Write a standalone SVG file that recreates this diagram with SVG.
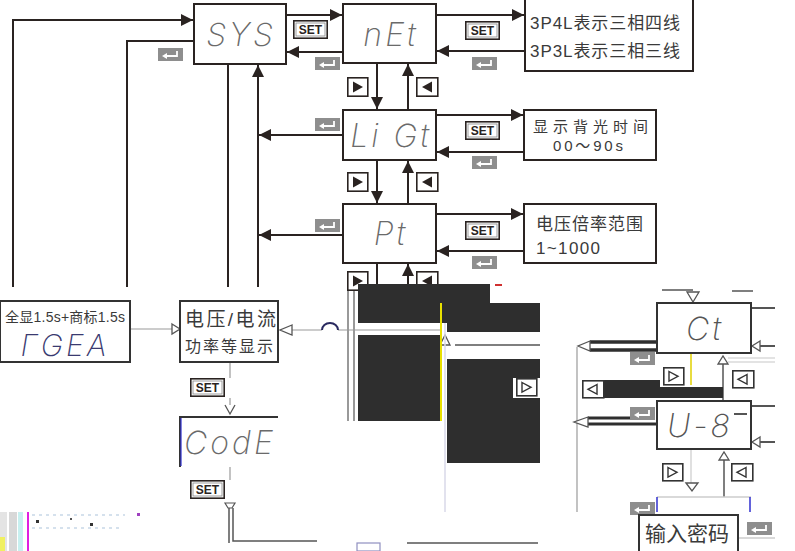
<svg xmlns="http://www.w3.org/2000/svg" width="795" height="551" viewBox="0 0 795 551">
<style>
.ln{fill:none;stroke:#2a2321;stroke-width:2}
.lt{fill:none;stroke:#9a9a9a;stroke-width:1.2}
.bx{fill:#fff;stroke:#2a2321;stroke-width:2}
.seg{font-family:Inter,"DejaVu Sans",sans-serif;font-style:italic;font-weight:200;font-size:32px;fill:#6a6a6a;text-anchor:middle;letter-spacing:3px}
.cn{font-family:"Liberation Sans","Noto Sans CJK SC",sans-serif;fill:#3a3a3a}
.dk{fill:#2e2e2e}
</style>
<defs>
<marker id="ah" markerUnits="userSpaceOnUse" markerWidth="13" markerHeight="12" refX="12" refY="6" orient="auto"><path d="M0,0 L12,6 L0,12 z" fill="#2a2321"/></marker>
<g id="set"><rect x="0.8" y="0.8" width="33.4" height="17.4" fill="#fff" stroke="#2a2321" stroke-width="1.6"/><rect x="3" y="3" width="29" height="13" fill="#fff" stroke="#888" stroke-width="0.8"/><text x="17.5" y="14" text-anchor="middle" font-family="Liberation Sans,sans-serif" font-weight="bold" font-size="12" fill="#2a2321">SET</text></g>
<g id="ret"><rect x="0" y="0" width="25" height="13" fill="#8e8e8e"/><path d="M19,3 V8 H8" fill="none" stroke="#fff" stroke-width="1.8"/><path d="M4,8 L9,5 L9,11 z" fill="#fff"/></g>
<g id="rt"><rect x="0.8" y="0.8" width="20" height="18.4" fill="#fff" stroke="#2a2321" stroke-width="1.6"/><path d="M6,4.5 L16,10 L6,15.5 z" fill="#2a2321"/></g>
<g id="lt"><rect x="0.8" y="0.8" width="21" height="18.4" fill="#fff" stroke="#2a2321" stroke-width="1.6"/><path d="M16,4.5 L6,10 L16,15.5 z" fill="#2a2321"/></g>
<g id="hrt"><rect x="0.8" y="0.8" width="20" height="17" fill="#fff" stroke="#333" stroke-width="1.6"/><path d="M6,4.5 L15,9.3 L6,14 z" fill="#fff" stroke="#333" stroke-width="1.4"/></g>
<g id="hlt"><rect x="0.8" y="0.8" width="21" height="17" fill="#fff" stroke="#333" stroke-width="1.6"/><path d="M15,4.5 L6,9.3 L15,14 z" fill="#fff" stroke="#333" stroke-width="1.4"/></g>
</defs>

<g id="connectors">
<path class="ln" d="M13,287 V20 H193" marker-end="url(#ah)"/>
<path class="ln" d="M127,287 V41 H194"/>
<path class="ln" d="M228,64 V287"/>
<path class="ln" d="M258,287 V65" marker-end="url(#ah)"/>
<path class="ln" d="M343,135 H259" marker-end="url(#ah)"/>
<path class="ln" d="M343,235 H259" marker-end="url(#ah)"/>
<path class="ln" d="M286,15 H342" marker-end="url(#ah)"/>
<path class="ln" d="M343,52 H287" marker-end="url(#ah)"/>
<path class="ln" d="M436,15 H524" marker-end="url(#ah)"/>
<path class="ln" d="M525,51 H437" marker-end="url(#ah)"/>
<path class="ln" d="M377,63 V109" marker-end="url(#ah)"/>
<path class="ln" d="M408,110 V64" marker-end="url(#ah)"/>
<path class="ln" d="M436,115 H523" marker-end="url(#ah)"/>
<path class="ln" d="M524,152 H437" marker-end="url(#ah)"/>
<path class="ln" d="M377,160 V203" marker-end="url(#ah)"/>
<path class="ln" d="M408,204 V161" marker-end="url(#ah)"/>
<path class="ln" d="M436,214 H523" marker-end="url(#ah)"/>
<path class="ln" d="M524,251 H437" marker-end="url(#ah)"/>
<path class="ln" d="M377,263 V285"/>
<path class="ln" d="M408,285 V264" marker-end="url(#ah)"/>
<path class="lt" d="M130,329 H172"/>
<path d="M172,324 L180,329 L172,334 z" fill="#fff" stroke="#555" stroke-width="1.3"/>
<path class="lt" d="M292,330 H322 M338,330 H442"/>
<path d="M322,330 A8,7 0 0 1 338,330" fill="none" stroke="#2a2a60" stroke-width="2"/>
<path d="M292,325 L280,330 L292,335 z" fill="#fff" stroke="#555" stroke-width="1.3"/>
<path d="M445,335 L440,345 L450,345 z" fill="#fff" stroke="#555" stroke-width="1.3"/>
<path d="M455,345 H540" stroke="#555" stroke-width="1.5"/>
<path d="M348,271 V421 M354,271 V421" stroke="#999" stroke-width="2" fill="none"/>
<path d="M445,303 V512" stroke="#d8d8e8" stroke-width="1.5"/>
<path d="M446,303 V322" stroke="#3030d0" stroke-width="1.5"/>
<path class="lt" d="M230,362 V378 M230,398 V405"/>
<path d="M225,405 L230,414 L235,405" fill="none" stroke="#555" stroke-width="1.3"/>
<path class="lt" d="M230,467 V480"/>
<path d="M225,503 H235 L232,508 H228 z" fill="#fff" stroke="#555" stroke-width="1.2"/>
<path d="M229,508 V543 M233,508 V541 H317" fill="none" stroke="#555" stroke-width="1.5"/>
<path d="M407,543 H538" stroke="#555" stroke-width="1.5"/>
<path class="lt" d="M577,347 V512"/>
<path d="M662,290 H693 M732,291 H753" stroke="#555" stroke-width="1.5"/>
<path d="M687,292 L693,302 L699,292 z" fill="#fff" stroke="#555" stroke-width="1.3"/>
<path d="M590,342 H657 M590,350 H657" stroke="#2e2e2e" stroke-width="3.5"/>
<path d="M590,341 L578,346 L590,351 z" fill="#fff" stroke="#555" stroke-width="1.3"/>
<path d="M751,308 H775 M760,346 H775" stroke="#555" stroke-width="2"/>
<path d="M760,341 L752,346 L760,351 z" fill="#fff" stroke="#555" stroke-width="1.3"/>
<path d="M691,353 V385" stroke="#e0d000" stroke-width="1.5"/>
<path d="M723,364 V400" stroke="#555" stroke-width="1.5"/>
<path d="M718,364 L723,356 L728,364 z" fill="#fff" stroke="#555" stroke-width="1.3"/>
<path d="M728,358 H775 M728,362 H775" stroke="#c8c8c8" stroke-width="1.2"/>
<path d="M588,418 H630 M588,424 H657" stroke="#2e2e2e" stroke-width="3"/>
<path d="M588,417 L574,422 L588,427 z" fill="#fff" stroke="#555" stroke-width="1.3"/>
<path d="M751,406 H775 M760,442 H775" stroke="#555" stroke-width="2"/>
<path d="M760,437 L752,442 L760,447 z" fill="#fff" stroke="#555" stroke-width="1.3"/>
<path d="M691,449 V483" stroke="#ccc" stroke-width="1.2"/>
<path d="M686,483 L692,491 L698,483 z" fill="#fff" stroke="#555" stroke-width="1.3"/>
<path d="M724,460 V497" stroke="#555" stroke-width="1.5"/>
<path d="M719,460 L724,452 L729,460 z" fill="#fff" stroke="#555" stroke-width="1.3"/>
<path d="M657,497 H751" stroke="#ccc" stroke-width="1.5"/>
<path d="M657,497 V512 M750,497 V512" stroke="#3030d0" stroke-width="1.5"/>
<path d="M738,538 H775" stroke="#ccc" stroke-width="1.5"/>
</g>

<g id="n-sys"><rect class="bx" x="194" y="4" width="92" height="60"/><text class="seg" x="241" y="46">SYS</text></g>
<g id="n-net"><rect class="bx" x="343" y="4" width="93" height="59"/><text class="seg" x="391" y="46">nEt</text></g>
<g id="n-ligt"><rect class="bx" x="343" y="110" width="93" height="50"/><text class="seg" x="391" y="147">Li Gt</text></g>
<g id="n-pt"><rect class="bx" x="343" y="204" width="93" height="59"/><text class="seg" x="391" y="245">Pt</text></g>
<g id="n-3p"><rect class="bx" x="525" y="-4" width="168" height="75"/>
<text class="cn" x="530" y="29" font-size="17" textLength="150">3P4L表示三相四线</text>
<text class="cn" x="530" y="57" font-size="17" textLength="150">3P3L表示三相三线</text></g>
<g id="n-light"><rect class="bx" x="524" y="110" width="132" height="50"/>
<text class="cn" x="533" y="132" font-size="15" textLength="115">显示背光时间</text>
<text class="cn" x="553" y="151" font-size="15" textLength="70">00～90s</text></g>
<g id="n-ratio"><rect class="bx" x="524" y="204" width="132" height="59"/>
<text class="cn" x="536" y="230" font-size="17" textLength="107">电压倍率范围</text>
<text class="cn" x="536" y="254" font-size="17" textLength="64">1~1000</text></g>

<g id="icons">
<use href="#set" x="293" y="20"/>
<use href="#set" x="465" y="21"/>
<use href="#set" x="465" y="121"/>
<use href="#set" x="465" y="221"/>
<use href="#ret" x="315" y="57"/>
<use href="#ret" x="472" y="57"/>
<use href="#ret" x="158" y="48"/>
<use href="#ret" x="315" y="118"/>
<use href="#ret" x="472" y="156"/>
<use href="#ret" x="315" y="219"/>
<use href="#ret" x="472" y="256"/>
<use href="#rt" x="347" y="77"/>
<use href="#lt" x="416" y="77"/>
<use href="#rt" x="347" y="172"/>
<use href="#lt" x="416" y="172"/>
<use href="#rt" x="347" y="271"/>
<use href="#lt" x="416" y="271"/>
</g>

<g id="glitch">
<path class="dk" d="M358,284 H490 V303 H540 V332 H447 V323 H358 Z"/>
<path class="dk" d="M358,335 H440 V421 H358 Z"/>
<path class="dk" d="M447,359 H540 V463 H447 Z"/>
<rect x="513" y="378" width="27" height="20" fill="#fff"/>
<use href="#hrt" x="516" y="378"/>
<path d="M441,303 V421" stroke="#e8e000" stroke-width="2"/>
<rect x="495" y="284" width="7" height="2" fill="#d03030"/>
<path class="dk" d="M602,380 H660 V387 H723 V398 H602 Z"/>
<rect x="0" y="512" width="7" height="39" fill="#e4e4e4"/>
<rect x="9" y="512" width="8" height="39" fill="#d8d8d8"/>
<rect x="18" y="512" width="5" height="39" fill="#c8f0f0"/>
<rect x="27" y="512" width="2" height="39" fill="#e020e0"/>
<rect x="0" y="537" width="5" height="14" fill="#f0f060"/>
<path d="M32,515 H125 M32,528 H120" stroke="#c8d8e8" stroke-width="1.5" stroke-dasharray="3,4"/>
<rect x="36" y="520" width="3" height="3" fill="#333"/><rect x="90" y="523" width="3" height="3" fill="#333"/><rect x="70" y="518" width="2" height="2" fill="#555"/><rect x="137" y="513" width="3" height="3" fill="#a040c0"/>
<rect x="357" y="543" width="23" height="8" fill="#fff" stroke="#9090c0" stroke-width="1.2"/>
</g>

<g id="n-rgea"><rect x="0" y="301" width="130" height="61" fill="#fff" stroke="#333" stroke-width="2"/>
<text class="cn" x="5" y="322" font-size="14" textLength="120">全显1.5s+商标1.5s</text>
<text class="seg" x="65" y="356" style="fill:#3a3a70;font-size:30px">ΓGEA</text></g>
<g id="n-disp"><rect x="180" y="301" width="98" height="61" fill="#fff" stroke="#333" stroke-width="2"/>
<text class="cn" x="185" y="326" font-size="19" textLength="91">电压/电流</text>
<text class="cn" x="185" y="352" font-size="16" textLength="88">功率等显示</text></g>
<use href="#set" x="190" y="378"/>
<g id="n-code"><path d="M180,467 V417 H278" fill="none" stroke="#333" stroke-width="2"/><path d="M181,418 V466" stroke="#3030d0" stroke-width="1.2"/><text class="seg" x="230" y="454">CodE</text></g>
<use href="#set" x="190" y="480"/>
<g id="n-ct"><rect x="657" y="303" width="94" height="50" fill="#fff" stroke="#333" stroke-width="2"/><text class="seg" x="705" y="340" style="fill:#555">Ct</text></g>
<use href="#ret" x="630" y="352"/>
<use href="#hrt" x="663" y="367"/>
<use href="#hlt" x="732" y="370"/>
<use href="#hlt" x="582" y="380"/>
<g id="n-u8"><rect x="657" y="401" width="94" height="48" fill="#fff" stroke="#333" stroke-width="2"/><text class="seg" x="700" y="437" style="fill:#555">U-8</text><path d="M734,414 H747" stroke="#555" stroke-width="2"/></g>
<use href="#ret" x="630" y="407"/>
<use href="#hrt" x="662" y="463"/>
<use href="#hlt" x="731" y="463"/>
<use href="#ret" x="630" y="502"/>
<g id="n-pw"><path d="M639,551 V515 H738 V551" fill="#fff" stroke="#333" stroke-width="2"/><text class="cn" x="645" y="541" font-size="21">输入密码</text></g>
<use href="#ret" x="747" y="522"/>
</svg>
